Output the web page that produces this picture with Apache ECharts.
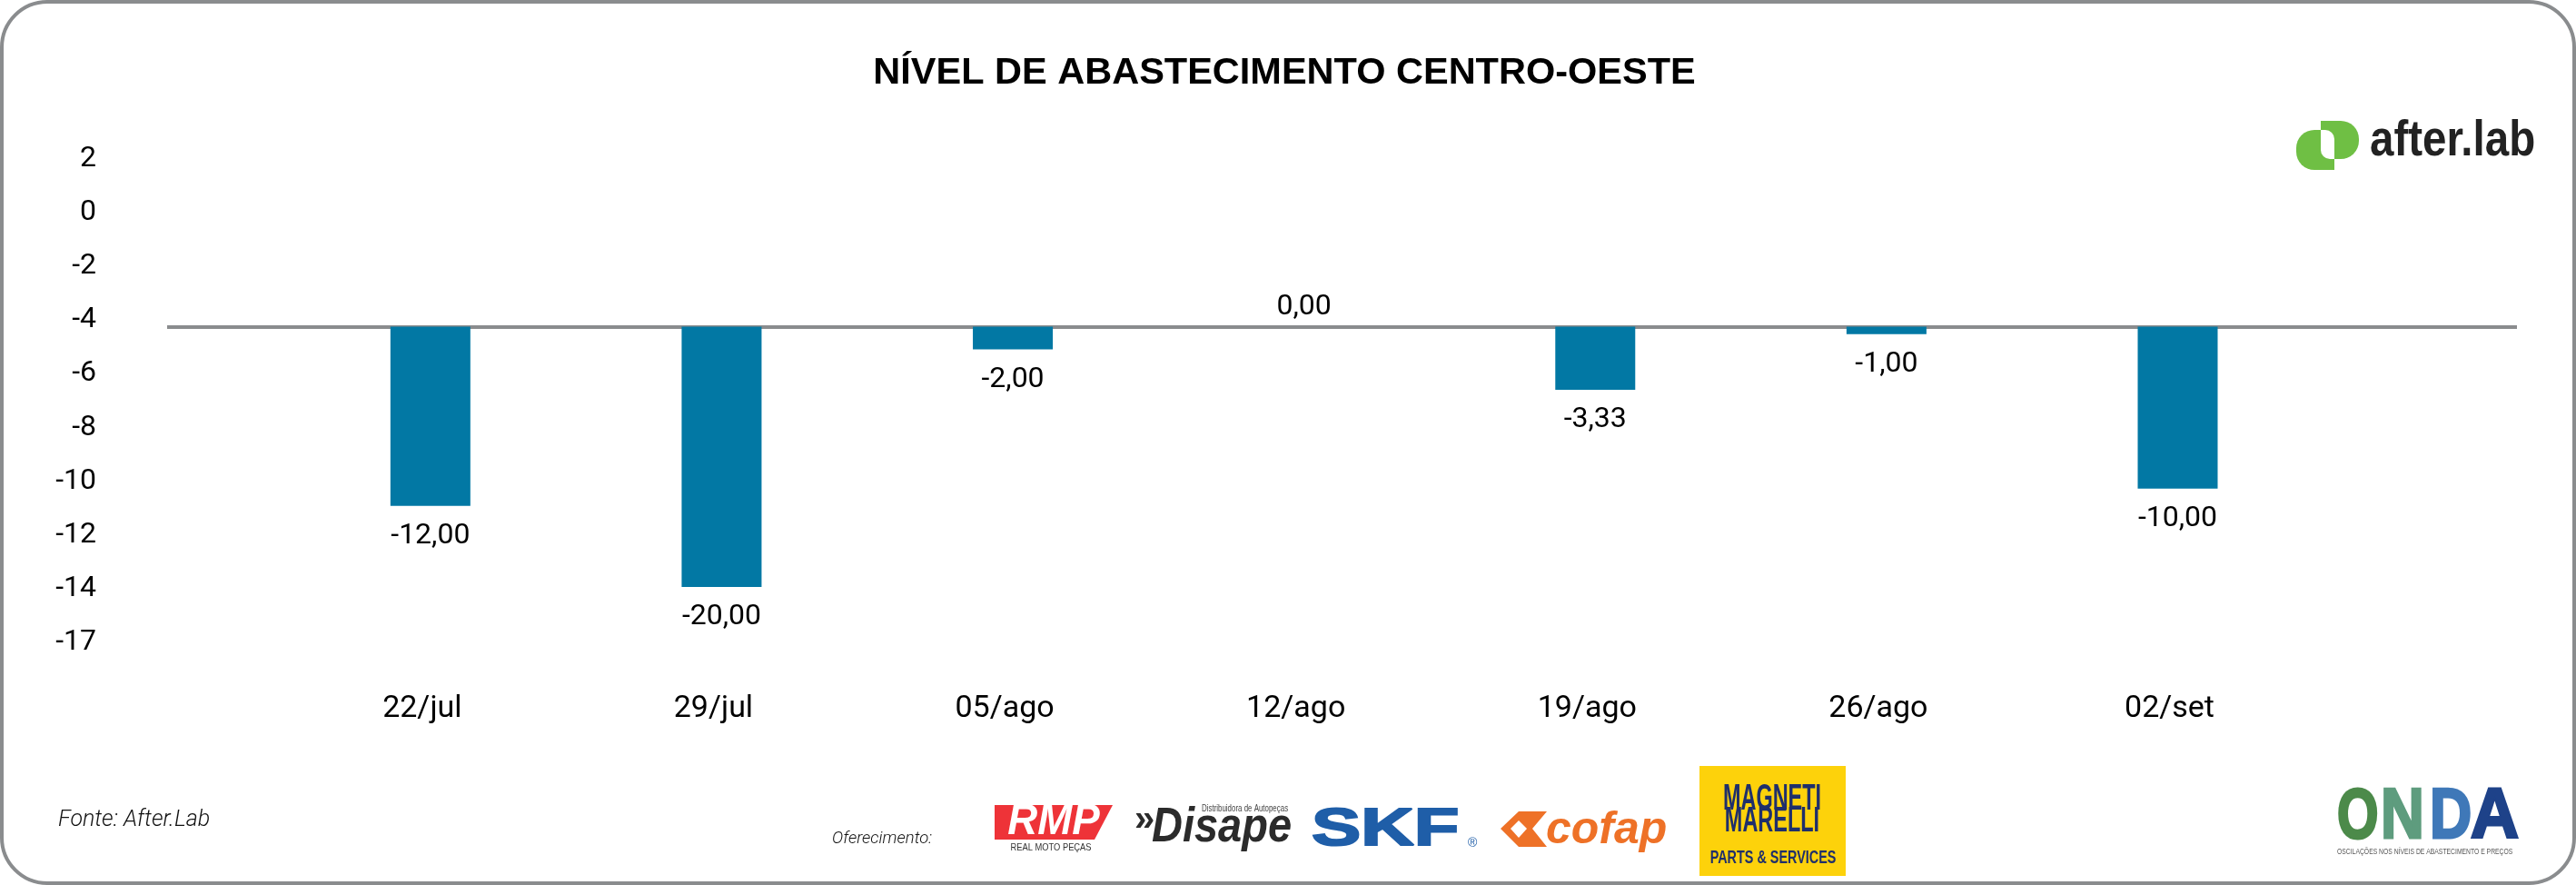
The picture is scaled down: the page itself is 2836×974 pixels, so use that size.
<!DOCTYPE html>
<html lang="pt-BR">
<head>
<meta charset="utf-8">
<title>Nível de abastecimento Centro-Oeste</title>
<script src="https://cdn.jsdelivr.net/npm/echarts@6/dist/echarts.min.js"></script>
<style>html,body{margin:0;padding:0;background:#fff}#c{width:2836px;height:974px}</style>
</head>
<body>
<div id="c"></div>
<script>
const categories = ["22/jul","29/jul","05/ago","12/ago","19/ago","26/ago","02/set"];
// Printed data labels
const valueLabels = ["-12,00","-20,00","-2,00","0,00","-3,33","-1,00","-10,00"];
// Bar lengths below the grey line, in units of the printed axis (2 units per tick)
const barDepths = [-6.68,-9.70,-0.85,0,-2.35,-0.28,-6.03];
// Printed axis labels, top to bottom
const yTickLabels = ["2","0","-2","-4","-6","-8","-10","-12","-14","-17"];
// Height of the top printed tick above the grey line
const topTick = 6.24;

const THIN = 'Roboto';
const SANS = '"Liberation Sans"';
const yTicks = yTickLabels.map((t,i)=>+(topTick-2*i).toFixed(2));

function txt(text,x,y,font,fill,opt){
  opt = opt||{};
  const el = {type:'text',x:x,y:y,silent:true,z:opt.z||10,
    style:{text:text,font:font,fill:fill,textAlign:opt.align||'left',textVerticalAlign:opt.va||'middle'}};
  if(opt.stroke){el.style.stroke=fill;el.style.lineWidth=opt.stroke;}
  if(opt.sx) el.scaleX=opt.sx;
  if(opt.sy) el.scaleY=opt.sy;
  return el;
}
function box(x,y,w,h,fill,r,z){
  return {type:'rect',silent:true,z:z||9,shape:{x:x,y:y,width:w,height:h,r:r||0},style:{fill:fill}};
}
function poly(points,fill,z){
  return {type:'polygon',silent:true,z:z||9,shape:{points:points},style:{fill:fill}};
}

const graphics = [
  {type:'rect',silent:true,z:0,shape:{x:2,y:2,width:2832,height:970,r:50},style:{fill:'#fff',stroke:'#8a8c8e',lineWidth:4}},
  txt('Fonte: After.Lab',64,903,'italic 300 25px '+THIN,'#111'),
  txt('Oferecimento:',916,923,'italic 300 18.5px '+THIN,'#111'),
  // RMP
  poly([[1095,886],[1225,886],[1205,924],[1095,924]],'#EE3338'),
  txt('RMP',1160,905,'italic bold 48px '+SANS,'#fff',{align:'center',sx:0.95}),
  txt('REAL MOTO PEÇAS',1157,933,'11px '+SANS,'#333',{align:'center',sx:0.85}),
  // Disape
  txt('»',1249,903,'bold 40px '+SANS,'#2b2b2b'),
  txt('Disape',1268,911,'italic bold 54px '+SANS,'#2b2b2b',{sx:0.87}),
  txt('Distribuidora de Autopeças',1323,890,'11px '+SANS,'#444',{sx:0.72}),
  // SKF
  txt('SKF',1444,914,'bold 58px '+SANS,'#1F5EA8',{sx:1.4,stroke:2}),
  txt('®',1616,928,'14px '+SANS,'#1F5EA8'),
  // cofap
  poly([[1672,893],[1703,893],[1687,912],[1703,932],[1672,932],[1652,912]],'#EE7127'),
  poly([[1672,903],[1681,912],[1672,922],[1663,912]],'#fff',9.5),
  txt('cofap',1702,914,'italic bold 50px '+SANS,'#EE7127',{sx:1.0}),
  // Magneti Marelli
  box(1871,843,161,121,'#FDD20B',0),
  txt('MAGNETI',1951,880,'bold 34px '+SANS,'#1F2F6B',{align:'center',sx:0.69,sy:1.2}),
  txt('MARELLI',1951,904,'bold 34px '+SANS,'#1F2F6B',{align:'center',sx:0.69,sy:1.15}),
  txt('PARTS & SERVICES',1952,944,'bold 20px '+SANS,'#1F2F6B',{align:'center',sx:0.72}),
  // after.lab
  box(2528,143,42,44,'#6FBF44',[20,0,0,20]),
  box(2555,133,42,42,'#6FBF44',[0,20,20,0]),
  box(2555,143,15,32,'#fff',[0,10,0,10],9.5),
  txt('after.lab',2609,183,'bold 50px '+SANS,'#222',{va:'bottom',sx:0.95,sy:1.1}),
  // ONDA
  txt('O',2573,900,'bold 78px '+SANS,'#4C8A4A',{sx:0.75,stroke:3}),
  txt('N',2621,900,'bold 78px '+SANS,'#5E9C7E',{sx:0.85,stroke:3}),
  txt('D',2675,900,'bold 78px '+SANS,'#3F78B8',{sx:0.82,stroke:3}),
  txt('A',2720,900,'bold 78px '+SANS,'#1E4289',{sx:0.94,stroke:3}),
  txt('OSCILAÇÕES NOS NÍVEIS DE ABASTECIMENTO E PREÇOS',2573,938,'8.5px '+SANS,'#555',{sx:0.8})
];

const chart = echarts.init(document.getElementById('c'),null,{renderer:'canvas'});
chart.setOption({
  animation:false,
  backgroundColor:'#fff',
  title:{text:'NÍVEL DE ABASTECIMENTO CENTRO-OESTE',left:1409,top:55,textAlign:'center',
    textStyle:{fontFamily:SANS,fontWeight:'bold',fontSize:41.5,color:'#000'}},
  graphic:graphics,
  grid:{left:184,right:65,top:175,height:532,containLabel:false},
  xAxis:{type:'value',min:-0.904,max:7.165,
    axisLine:{show:false,onZero:false},axisTick:{show:false},splitLine:{show:false},
    axisLabel:{customValues:categories.map((c,i)=>i),formatter:v=>categories[v],
      margin:56,padding:[0,18,0,0],fontFamily:THIN,fontWeight:400,fontSize:34,color:'#000'}},
  yAxis:{type:'value',min:yTicks[yTicks.length-1],max:yTicks[0],
    axisLine:{show:false},axisTick:{show:false},splitLine:{show:false},
    axisLabel:{customValues:yTicks,formatter:v=>yTickLabels[yTicks.indexOf(v)],
      margin:78,padding:[4,0,0,0],fontFamily:THIN,fontWeight:400,fontSize:32,color:'#000',showMinLabel:true,showMaxLabel:true}},
  series:[
    {type:'bar',barWidth:88,silent:true,
     itemStyle:{color:'#0278A4'},
     markLine:{silent:true,symbol:'none',z:1,label:{show:false},
       lineStyle:{color:'#8a8c8e',width:4,type:'solid'},data:[{yAxis:0}]},
     label:{show:true,position:'bottom',distance:17,fontFamily:THIN,fontWeight:400,fontSize:32,color:'#000',
       formatter:p=>valueLabels[p.dataIndex]},
     data:barDepths.map((v,i)=>
       v===0?{value:[i,v],label:{position:'top',distance:5}}:{value:[i,v]})}
  ]
});
</script>
</body>
</html>
